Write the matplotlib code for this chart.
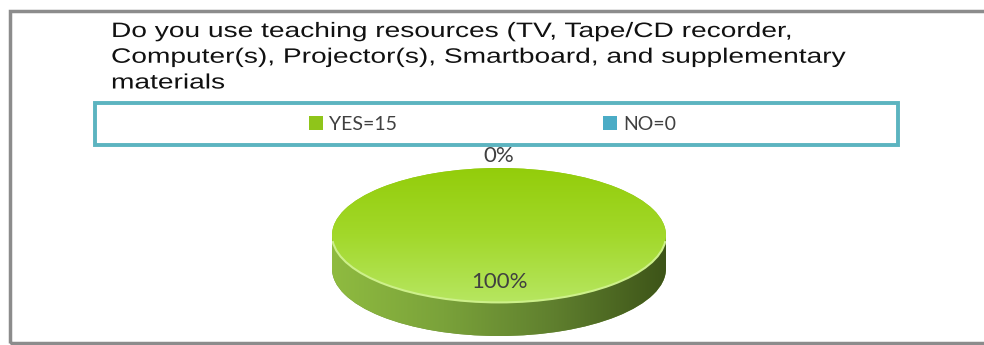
import matplotlib.pyplot as plt
import numpy as np
from matplotlib.patches import Rectangle, Arc
from matplotlib.colors import LinearSegmentedColormap
from matplotlib.patheffects import AbstractPathEffect
from matplotlib.transforms import Affine2D

# Данные опроса
answers = ["YES", "NO"]
counts = [15, 0]
title = ("Do you use teaching resources (TV, Tape/CD recorder,\n"
         "Computer(s), Projector(s), Smartboard, and supplementary\n"
         "materials")

W, H = 984, 345
fig = plt.figure(figsize=(W / 100, H / 100), dpi=100)


def fx(px):
    return px / W


def fy(py):
    return 1 - py / H


class WideText(AbstractPathEffect):
    """Растягивает текст по горизонтали относительно x0 (в пикселях)."""

    def __init__(self, x0, sx):
        super().__init__()
        self.x0, self.sx = x0, sx

    def draw_path(self, renderer, gc, tpath, affine, rgbFace=None):
        stretch = Affine2D().translate(-self.x0, 0).scale(self.sx, 1) \
            .translate(self.x0, 0)
        renderer.draw_path(gc, tpath, affine + stretch, rgbFace)


# Рамка всей диаграммы (правый край уходит за картинку)
fig.patches.append(Rectangle((fx(10), fy(343)), (990 - 10) / W, (343 - 11) / H,
                             transform=fig.transFigure, fill=False,
                             ec="#8c8c8c", lw=2.5))
# Рамка легенды
fig.patches.append(Rectangle((fx(95), fy(145)), (898 - 95) / W, (145 - 103) / H,
                             transform=fig.transFigure, fill=False,
                             ec="#5cb4c0", lw=2.8))

# Заголовок в оригинале растянут по ширине
fig.text(fx(111), fy(22), title, ha="left", va="top", fontsize=15,
         family=["Liberation Sans", "DejaVu Sans"], color="#111111",
         linespacing=1.45, path_effects=[WideText(111, 1.35)])

# Оси для "объемного" пирога: верх эллипса + боковая стенка толщиной t
t = 0.5
ax = fig.add_axes([fx(332), fy(336), (666 - 332) / W, (336 - 168) / H])

top_colors = ["#8fc51a", "#4bacc6"]
side_colors = ["#6f9238", "#2f7f90"]

side_wedges, _ = ax.pie(counts, center=(0, -t), startangle=90,
                        counterclock=False, colors=side_colors)
top_wedges, _ = ax.pie(counts, startangle=90, counterclock=False,
                       colors=top_colors)

side_cmap = LinearSegmentedColormap.from_list(
    "side", ["#8fbb40", "#7aa23a", "#5f7f2e", "#3d5418"])
top_cmap = LinearSegmentedColormap.from_list(
    "top", ["#93cd0a", "#a2d82a", "#b6e660"])
hgrad = np.linspace(0, 1, 256)[None, :]
vgrad = np.linspace(0, 1, 256)[:, None]

for w, c in zip(side_wedges, counts):
    w.set_zorder(1)
    if c == 0:
        continue
    im = ax.imshow(hgrad, extent=(-1, 1, -1 - t, 0), aspect="auto",
                   cmap=side_cmap, zorder=1.5)
    im.set_clip_path(w)
wall = Rectangle((-1, -t), 2, t, transform=ax.transData, visible=False)
ax.add_patch(wall)
im = ax.imshow(hgrad, extent=(-1, 1, -1 - t, 0), aspect="auto",
               cmap=side_cmap, zorder=1.5)
im.set_clip_path(wall)

for w, c in zip(top_wedges, counts):
    w.set_zorder(2)
    if c == 0:
        continue
    im = ax.imshow(vgrad, extent=(-1, 1, -1, 1), aspect="auto",
                   cmap=top_cmap, zorder=3)
    im.set_clip_path(w)

# Светлый блик по переднему краю
ax.add_patch(Arc((0, 0), 2, 2, theta1=185, theta2=355, color="#cdf08a",
                 lw=1.5, zorder=4))

total = sum(counts)
for w, c in zip(top_wedges, counts):
    ang = np.deg2rad((w.theta1 + w.theta2) / 2)
    dist = 1.18 if c == 0 else 0.69
    ax.text(dist * np.cos(ang), dist * np.sin(ang), f"{100 * c / total:.0f}%",
            ha="center", va="center", fontsize=16, color="#404040",
            family=["Lato", "DejaVu Sans"], zorder=5)

ax.set_aspect("auto")
ax.set_xlim(-1, 1)
ax.set_ylim(-1 - t, 1)
ax.axis("off")

leg = fig.legend(top_wedges, [f"{a}={c}" for a, c in zip(answers, counts)],
                 loc="center left", bbox_to_anchor=(fx(309), fy(124)), ncol=2,
                 frameon=False, handlelength=0.72, handleheight=0.72,
                 handletextpad=0.3, columnspacing=10.6, borderpad=0,
                 borderaxespad=0,
                 prop={"family": ["Lato", "DejaVu Sans"], "size": 14})
for txt in leg.get_texts():
    txt.set_color("#404040")

fig.savefig("out.png", dpi=100)
